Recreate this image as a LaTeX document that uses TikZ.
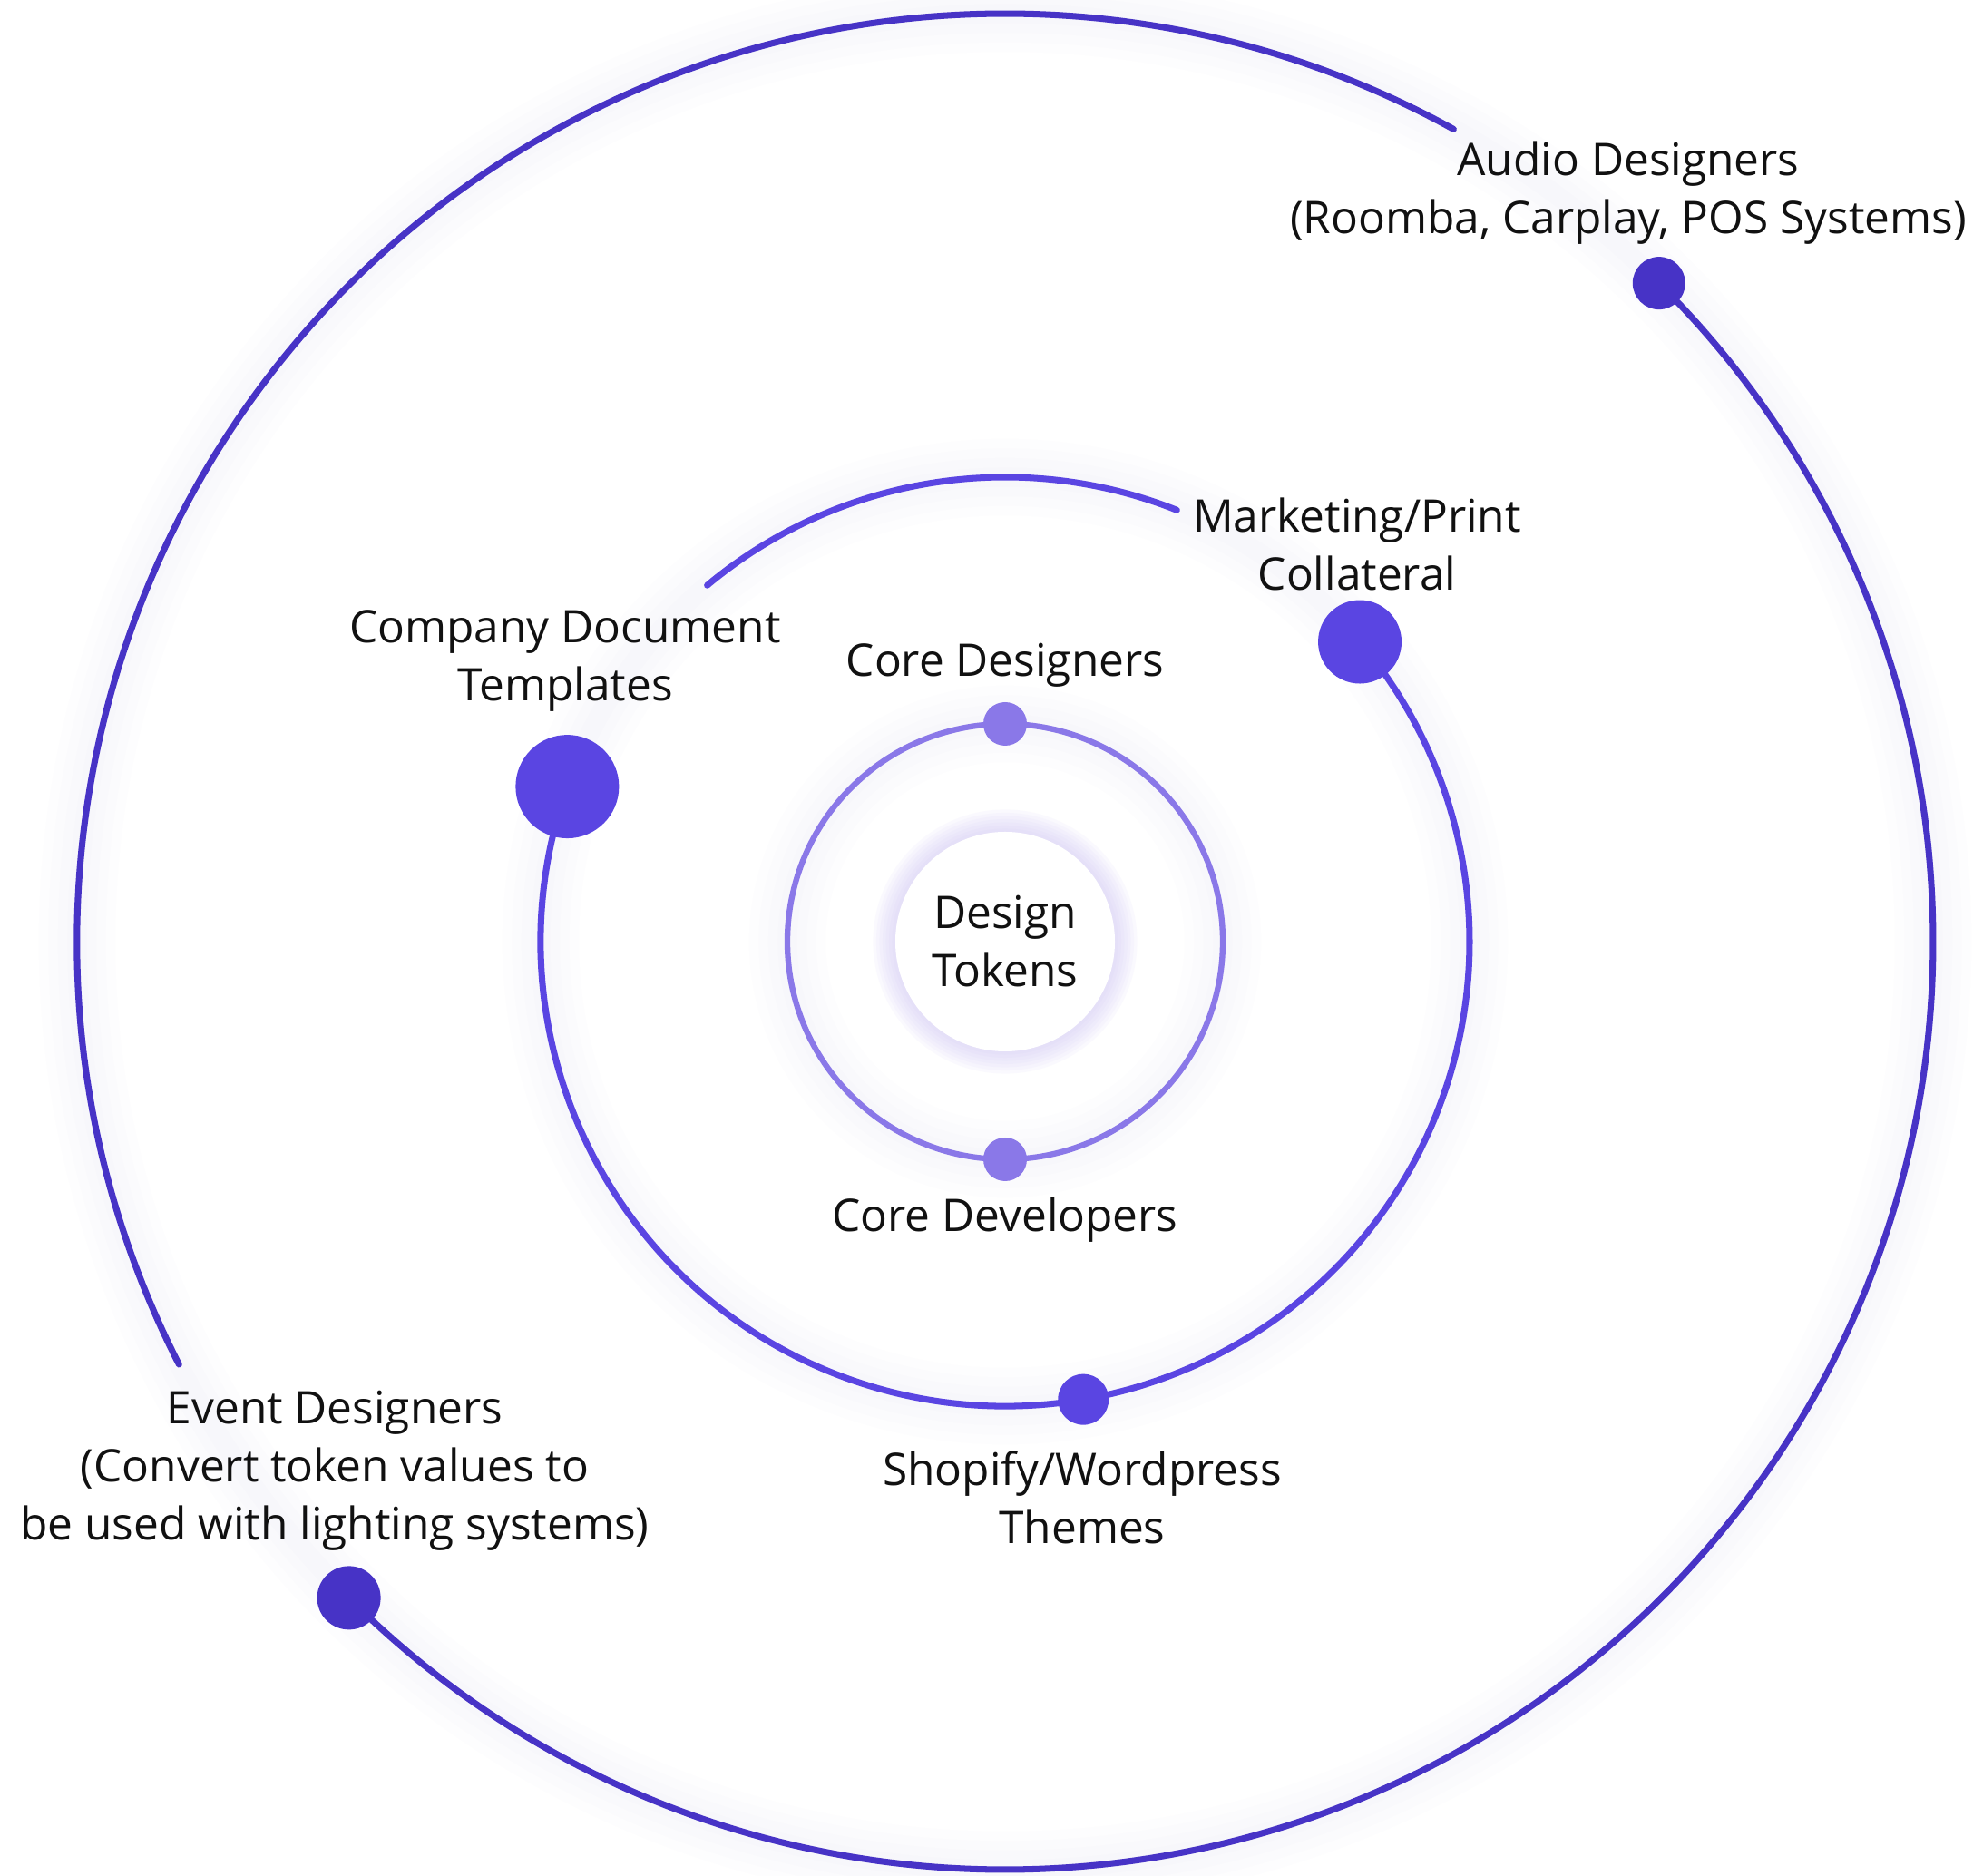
\documentclass[tikz,border=0pt]{standalone}
\usepackage{fontspec}
\setmainfont{Open Sans}
\usepackage{tikz}
\usetikzlibrary{backgrounds}
\usepackage{xcolor}
\definecolor{dtinner}{RGB}{138,120,232}
\definecolor{dtmiddle}{RGB}{90,69,226}
\definecolor{dtouter}{RGB}{71,51,198}
\definecolor{dtglow}{RGB}{200,190,245}
\definecolor{dttext}{RGB}{17,17,17}
\tikzstyle{ring} = [line width=2pt, line cap=round]
\tikzstyle{dot} = [circle, inner sep=0pt, draw=none]
\tikzstyle{label} = [align=center, text=dttext, font=\fontsize{14.1}{18.2}\selectfont]

\begin{document}
\begin{tikzpicture}
\useasboundingbox (-11.08,-10.30) rectangle (10.78,10.38);

% dots
\node[dot, fill=dtinner, minimum size=0.48cm] (coredes) at (90:2.40) {};
\node[dot, fill=dtinner, minimum size=0.48cm] (coredev) at (-90:2.40) {};
\node[dot, fill=dtmiddle, minimum size=1.14cm] (company) at (160.5:5.12) {};
\node[dot, fill=dtmiddle, minimum size=0.92cm] (marketing) at (40.2:5.12) {};
\node[dot, fill=dtmiddle, minimum size=0.56cm] (shopify) at (-80.3:5.12) {};
\node[dot, fill=dtouter, minimum size=0.58cm] (audio) at (45.2:10.23) {};
\node[dot, fill=dtouter, minimum size=0.70cm] (event) at (225:10.23) {};
\coordinate (midstart) at (129.9:5.12);
\coordinate (outstart) at (207.1:10.23);

% centre
\node[circle, fill=white, minimum size=2.42cm, label] (tokens) at (0,0) {Design\\Tokens};

% labels
\node[label] (lcoredes) at (0,3.05) {Core Designers};
\node[label] (lcoredev) at (0,-3.07) {Core Developers};
\node[label] (lcompany) at (-4.85,3.09) {Company Document\\Templates};
\node[label] (lmarketing) at (3.88,4.38) {Marketing/Print\\Collateral};
\node[label] (lshopify) at (0.85,-6.13) {Shopify/Wordpress\\Themes};
\node[label] (laudio) at (6.87,8.25) {Audio Designers\\(Roomba, Carplay, POS Systems)};
\node[label] (levent) at (-7.39,-5.83) {Event Designers\\(Convert token values to\\be used with lighting systems)};

\begin{pgfonlayer}{background}
\fill[white] (-11.08,-10.30) rectangle (10.78,10.38);
% soft glow
\foreach \r in {2.40,5.12,10.23}
  \foreach \w in {6,12,18,24}
    \draw[dtglow, line width=\w pt, opacity=0.025] (0,0) circle (\r);
\foreach \w in {2,4,6,8,10,12,14}
  \draw[dtglow, line width=\w pt, opacity=0.08] (tokens.center) circle (1.21);

% rings
\draw[ring, dtinner, line width=1.8pt] (coredes.center) arc[start angle=90, end angle=450, radius=2.40];
\draw[ring, dtmiddle] (company.center) arc[start angle=160.5, end angle=400.2, radius=5.12];
\draw[ring, dtmiddle] (midstart) arc[start angle=129.9, end angle=68.3, radius=5.12];
\draw[ring, dtouter] (audio.center) arc[start angle=45.2, end angle=-135, radius=10.23];
\draw[ring, dtouter] (outstart) arc[start angle=207.1, end angle=61.1, radius=10.23];
\end{pgfonlayer}
\end{tikzpicture}
\end{document}
